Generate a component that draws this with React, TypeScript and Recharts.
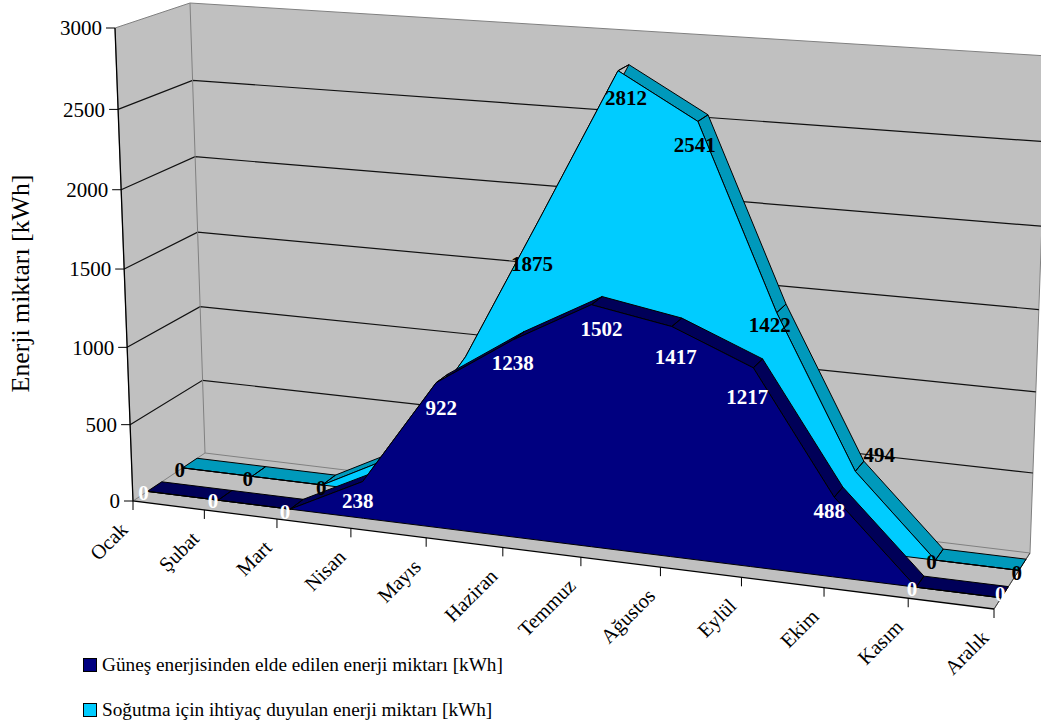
import React from 'react';
import { AreaChart, Area, XAxis, YAxis, Legend } from 'recharts';

const WIDTH = 1041;
const HEIGHT = 728;
const SERIF = '"Liberation Serif", serif';

const months = ['Ocak', 'Şubat', 'Mart', 'Nisan', 'Mayıs', 'Haziran', 'Temmuz', 'Ağustos', 'Eylül', 'Ekim', 'Kasım', 'Aralık'];
const solarEnergy = [0, 0, 0, 238, 922, 1238, 1502, 1417, 1217, 488, 0, 0];
const coolingNeed = [0, 0, 0, 245, 950, 1875, 2812, 2541, 1422, 494, 0, 0];
const valueTicks = [0, 500, 1000, 1500, 2000, 2500, 3000];
const MAX_VALUE = 3000;

const solarName = 'Güneş enerjisinden elde edilen enerji miktarı [kWh]';
const coolingName = 'Soğutma için ihtiyaç duyulan enerji miktarı [kWh]';

// Screen offsets of the value labels from their points; null = hidden behind the front series
const solarNudge = [[-4, 1], [-5, 0], [-5, 2], [-5, 19], [5, 25], [0, 23], [10, 24], [4, 30], [-6, 29], [-5, 13], [-4, 1], [-1, -4]];
const coolingNudge = [[-3, 2], [-4, 2], [-1, 3], null, null, [-8, 46], [8, 27], [-3, 23], [-7, 12], [24, -17], [-4, 2], [-2, 2]];

const tableData = months.map((name, i) => ({
  name,
  solar: solarEnergy[i],
  cooling: coolingNeed[i],
  solarTop: [solarEnergy[i], solarEnergy[i]],
  coolingTop: [coolingNeed[i], coolingNeed[i]],
}));

// Corners of the 3D box: bottom-left, bottom-right, top-right, top-left
type Pt = [number, number];
const FRONT: Pt[] = [[133, 501], [994, 609], [1011.5, 88], [115, 28]];
const BACK: Pt[] = [[205, 453], [1030, 553], [1048, 56], [190, 3]];

const SOLAR_DEPTH = [0.2, 0.4];
const COOLING_DEPTH = [0.69, 0.89];

// Unit square -> quad homography at depth w, u along months, v up the values
function project(u: number, v: number, w: number): Pt {
  const q = FRONT.map((p, i) => [p[0] + (BACK[i][0] - p[0]) * w, p[1] + (BACK[i][1] - p[1]) * w]);
  const [[x0, y0], [x1, y1], [x2, y2], [x3, y3]] = q;
  const dx1 = x1 - x2, dx2 = x3 - x2, sx = x0 - x1 + x2 - x3;
  const dy1 = y1 - y2, dy2 = y3 - y2, sy = y0 - y1 + y2 - y3;
  const den = dx1 * dy2 - dx2 * dy1;
  const g = (sx * dy2 - dx2 * sy) / den;
  const h = (dx1 * sy - sx * dy1) / den;
  const a = x1 - x0 + g * x1, b = x3 - x0 + h * x3;
  const d = y1 - y0 + g * y1, e = y3 - y0 + h * y3;
  const t = g * u + h * v + 1;
  return [(a * u + b * v + x0) / t, (d * u + e * v + y0) / t];
}

// The chart's plot fills the whole svg, so scale output converts back to unit coordinates
const projectPixel = (x: number, y: number, w: number) => project(x / WIDTH, 1 - y / HEIGHT, w);

// d3 curve factory: top line goes to depth w0, base line to w1; split draws one quad per month
const sheetCurve = (w0: number, w1: number, split: boolean) => (context: any) => {
  let lines: Pt[][] = [];
  let pts: Pt[] = [];
  const poly = (p: Pt[]) => {
    p.forEach(([x, y], i) => (i ? context.lineTo(x, y) : context.moveTo(x, y)));
    context.closePath();
  };
  return {
    areaStart() { lines = []; },
    areaEnd() {
      const top = lines[0].map(([x, y]) => projectPixel(x, y, w0));
      const base = lines[1].slice().reverse().map(([x, y]) => projectPixel(x, y, w1));
      if (split) {
        for (let i = 0; i + 1 < top.length; i++) poly([top[i], top[i + 1], base[i + 1], base[i]]);
      } else {
        poly([...top, ...base.slice().reverse()]);
      }
    },
    lineStart() { pts = []; },
    lineEnd() { lines.push(pts); },
    point(x: number, y: number) { pts.push([x, y]); },
  };
};

const toPath = (pts: Pt[]) => pts.map(([x, y], i) => `${i ? 'L' : 'M'}${x} ${y}`).join('');

// Back wall, left wall, floor and their gridlines
const Walls = () => (
  <g>
    <path d={toPath([project(0, 0, 0), project(0, 1, 0), project(0, 1, 1), project(1, 1, 1), project(1, 0, 1), project(1, 0, 0)])} fill="#c0c0c0" stroke="#808080" />
    {valueTicks.slice(1, -1).map((t) => (
      <path key={t} d={toPath([project(0, t / MAX_VALUE, 0), project(0, t / MAX_VALUE, 1), project(1, t / MAX_VALUE, 1)])} fill="none" stroke="#111" strokeWidth={1.2} />
    ))}
    <path d={toPath([project(0, 1, 1), project(0, 0, 1), project(1, 0, 1)])} fill="none" stroke="#808080" />
    <path d={toPath([project(0, 0, 0), project(0, 0, 1)])} fill="none" stroke="#808080" />
    <path d={toPath([project(1, 0, 1), project(1, 0, 0)])} fill="none" stroke="#444" />
    <path d={toPath([project(0, 1, 0), project(0, 0, 0), project(1, 0, 0)])} fill="none" stroke="#000" strokeWidth={1.3} />
  </g>
);

const MonthTick = ({ x, payload }: any) => {
  const [px, py] = project(x / WIDTH, 0, 0);
  return (
    <g>
      <path d={`M${px} ${py}V${py + 9}`} stroke="#000" />
      <text
        transform={`translate(${px - 4} ${py + 30}) rotate(-45)`}
        textAnchor="end"
        fontFamily={SERIF}
        fontSize={20.5}
        fill="#000"
      >
        {payload.value}
      </text>
    </g>
  );
};

const ValueTick = ({ y, payload }: any) => {
  const [px, py] = project(0, 1 - y / HEIGHT, 0);
  return (
    <g>
      <path d={`M${px - 9} ${py}H${px}`} stroke="#000" />
      <text x={px - 13} y={py} dy="0.35em" textAnchor="end" fontFamily={SERIF} fontSize={21} fill="#000">
        {payload.value}
      </text>
    </g>
  );
};

const valueLabel = (depth: number, color: string, nudges: (number[] | null)[]) => (props: any) => {
  const nudge = nudges[props.index];
  const x = props.x ?? props.viewBox?.x;
  const y = props.y ?? props.viewBox?.y;
  if (!nudge || x == null) return null;
  const [px, py] = projectPixel(x, y, depth);
  return (
    <text x={px + nudge[0]} y={py + nudge[1]} dy="0.35em" textAnchor="middle" fontFamily={SERIF} fontSize={21} fontWeight="bold" fill={color}>
      {props.value}
    </text>
  );
};

const LegendList = ({ payload }: any) => (
  <div style={{ fontFamily: SERIF, fontSize: 19.25, color: '#000' }}>
    {[...(payload || [])].sort((a: any, b: any) => (a.value < b.value ? -1 : 1)).map((item: any) => (
      <div key={item.value} style={{ display: 'flex', alignItems: 'center', height: 22, marginBottom: 23, whiteSpace: 'nowrap' }}>
        <span style={{ width: 12, height: 12, background: item.color, border: '1px solid #000', marginRight: 5 }} />
        {item.value}
      </div>
    ))}
  </div>
);

export default function App() {
  return (
    <div style={{ position: 'absolute', left: 0, top: 0, width: WIDTH, height: HEIGHT, overflow: 'hidden', background: '#fff' }}>
      <style>{`.sheet .recharts-area-area { stroke: #000; stroke-width: 1; stroke-linejoin: round; }`}</style>
      <AreaChart width={WIDTH} height={HEIGHT} data={tableData} margin={{ top: 0, right: 0, bottom: -1, left: -1 }}>
        <XAxis dataKey="name" height={1} interval={0} axisLine={false} tickLine={false} tick={MonthTick} />
        <YAxis width={1} domain={[0, MAX_VALUE]} ticks={valueTicks} interval={0} axisLine={false} tickLine={false} tick={ValueTick} />
        <Walls />
        <text transform="translate(29 283.5) rotate(-90)" textAnchor="middle" fontFamily={SERIF} fontSize={25.8} fill="#000">
          Enerji miktarı [kWh]
        </text>
        <Area className="sheet" dataKey="coolingTop" legendType="none" type={sheetCurve(COOLING_DEPTH[0], COOLING_DEPTH[1], true) as any} fill="#0099bb" fillOpacity={1} stroke="none" dot={false} activeDot={false} isAnimationActive={false} />
        <Area className="sheet" dataKey="cooling" name={coolingName} type={sheetCurve(COOLING_DEPTH[0], COOLING_DEPTH[0], false) as any} fill="#00ccff" fillOpacity={1} stroke="none" dot={false} activeDot={false} isAnimationActive={false} label={valueLabel(COOLING_DEPTH[0], '#000', coolingNudge)} />
        <Area className="sheet" dataKey="solarTop" legendType="none" type={sheetCurve(SOLAR_DEPTH[0], SOLAR_DEPTH[1], true) as any} fill="#000058" fillOpacity={1} stroke="none" dot={false} activeDot={false} isAnimationActive={false} />
        <Area className="sheet" dataKey="solar" name={solarName} type={sheetCurve(SOLAR_DEPTH[0], SOLAR_DEPTH[0], false) as any} fill="#000080" fillOpacity={1} stroke="none" dot={false} activeDot={false} isAnimationActive={false} label={valueLabel(SOLAR_DEPTH[0], '#fff', solarNudge)} />
        <Legend layout="vertical" align="center" verticalAlign="middle" wrapperStyle={{ left: 83, top: 654, width: 500 }} content={LegendList} />
      </AreaChart>
    </div>
  );
}
